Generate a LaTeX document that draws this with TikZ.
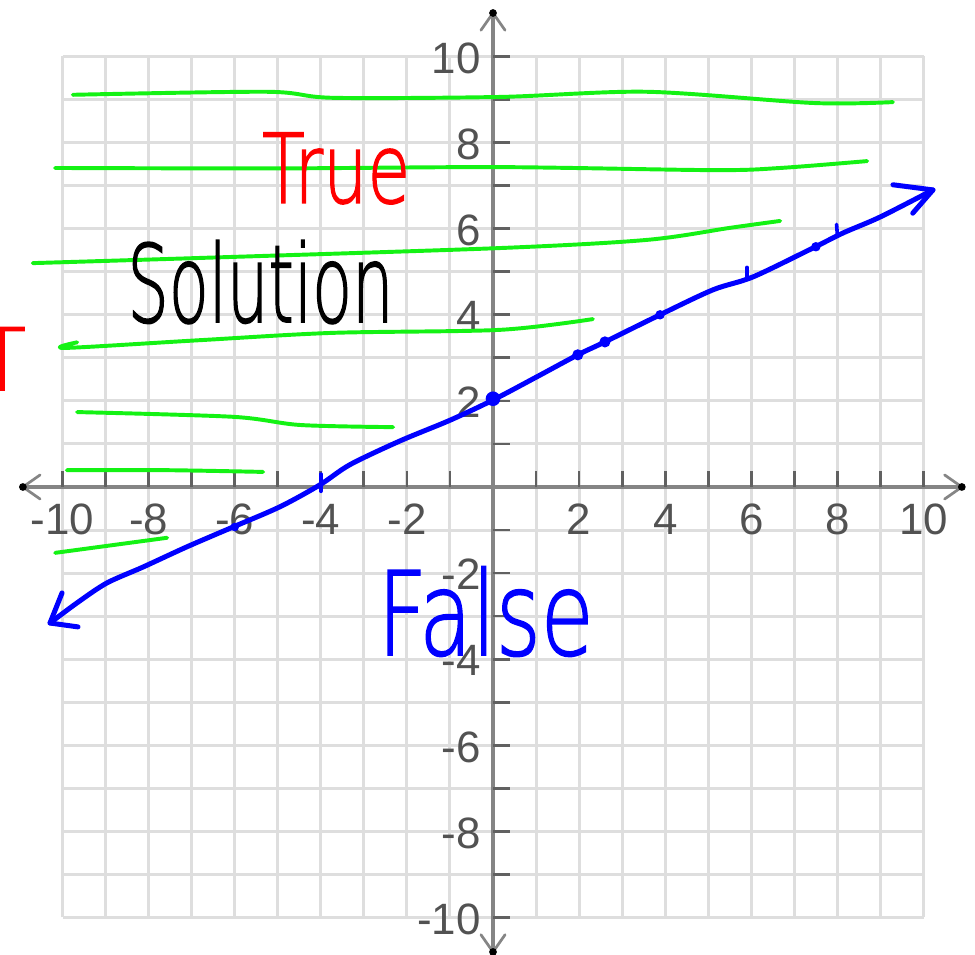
\documentclass[tikz,border=0pt]{standalone}
\usepackage{fontspec}
\setmainfont{Liberation Sans}
\newfontfamily\handfont[FakeBold=1.6]{DejaVu Sans ExtraLight}
\definecolor{hgreen}{RGB}{20,242,20}
\definecolor{hblue}{RGB}{0,0,255}
\definecolor{hred}{RGB}{255,0,0}
\begin{document}
\begin{tikzpicture}[x=1cm,y=1cm,
  gridline/.style={draw=black!13, line width=2pt},
  axisline/.style={draw=black!48, line width=2.6pt},
  axishead/.style={draw=black!48, line width=1.8pt, line cap=round, line join=round},
  tickmark/.style={draw=black!62, line width=1.8pt},
  numlbl/.style={text=black!68, font=\fontsize{29}{29}\selectfont, inner sep=0pt},
  shadeline/.style={draw=hgreen, line width=2.6pt, line cap=round, line join=round},
  solline/.style={draw=hblue, line width=3.3pt, line cap=round, line join=round},
  handtext/.style={inner sep=0pt}]
\clip (-11.452,-10.871) rectangle (11.196,11.312);
\fill[white] (-11.452,-10.871) rectangle (11.196,11.312);
% grid
\foreach \i in {-10,...,10} {
  \draw[gridline] (\i,-10) -- (\i,10);
  \draw[gridline] (-10,\i) -- (10,\i);
}
% axes
\coordinate (xl) at (-10.92,0);
\coordinate (xr) at (10.89,0);
\coordinate (yb) at (0,-10.80);
\coordinate (yt) at (0,11.01);
\draw[axisline] (xl) -- (xr);
\draw[axisline] (yb) -- (yt);
\draw[axishead] (-10.52,0.28) -- (xl) -- (-10.52,-0.28);
\draw[axishead] (10.49,0.28) -- (xr) -- (10.49,-0.28);
\draw[axishead] (-0.28,10.61) -- (yt) -- (0.28,10.61);
\draw[axishead] (-0.28,-10.40) -- (yb) -- (0.28,-10.40);
\foreach \c in {xl,xr,yb,yt} \fill[black] (\c) circle (0.09);
% ticks
\foreach \i in {-10,...,-1,1,2,...,10} {
  \draw[tickmark] (\i,0) -- (\i,0.38);
  \draw[tickmark] (0,\i) -- (0.4,\i);
}
% labels
\foreach \i in {-10,-8,-6,-4,-2,2,4,6,8,10} {
  \node[numlbl, anchor=base] (xlab\i) at (\i,-1.10) {\i};
  \node[numlbl, anchor=base east] (ylab\i) at (-0.28,\i-0.39) {\i};
}
% green shading strokes
\draw[shadeline] plot[smooth] coordinates {(-9.76,9.11) (-5.25,9.18) (-3.72,9.04) (0.16,9.06) (3.58,9.18) (7.43,8.92) (9.29,8.94)};
\draw[shadeline] plot[smooth] coordinates {(-10.17,7.41) (-5,7.40) (0.16,7.43) (5.11,7.36) (6.67,7.41) (8.69,7.57)};
\draw[shadeline] plot[smooth] coordinates {(-10.69,5.20) (-6.81,5.32) (0.16,5.55) (3.58,5.74) (5.51,6.02) (6.67,6.18)};
\draw[shadeline] plot[smooth] coordinates {(-9.66,3.36) (-9.94,3.23) (-6.81,3.41) (-3.72,3.58) (0.16,3.65) (2.32,3.90)};
\draw[shadeline] plot[smooth] coordinates {(-9.66,1.74) (-6.04,1.63) (-4.48,1.44) (-2.32,1.39)};
\draw[shadeline] plot[smooth] coordinates {(-9.90,0.39) (-7.57,0.39) (-5.34,0.35)};
\draw[shadeline] plot[smooth] coordinates {(-10.17,-1.53) (-7.57,-1.18)};
% blue boundary line
\draw[solline] plot[smooth, tension=0.5] coordinates {(-10.29,-3.16) (-9.66,-2.69) (-8.97,-2.23) (-8.13,-1.86) (-7.11,-1.39) (-6.04,-0.93) (-4.95,-0.46) (-4.02,0.05) (-3.32,0.52) (-2.16,1.07) (-1.00,1.55) (0,2.02) (1.02,2.56) (1.97,3.07) (2.60,3.37) (3.88,4.0) (5.11,4.58) (6.04,4.88) (7.43,5.55) (8.13,5.90) (8.99,6.27) (10.22,6.90)};
\draw[solline] (-10.01,-2.46) -- (-10.29,-3.16) -- (-9.64,-3.25);
\draw[solline] (9.29,7.02) -- (10.22,6.90) -- (9.75,6.36);
\fill[hblue] (0,2.05) circle (0.17);
\fill[hblue] (1.97,3.07) circle (0.13);
\fill[hblue] (2.60,3.37) circle (0.13);
\fill[hblue] (3.88,4.0) circle (0.11);
\fill[hblue] (7.50,5.58) circle (0.11);
\fill[hblue] (-6.0,-0.93) circle (0.10);
\draw[solline, line width=2.4pt] (5.9,4.85) -- (5.9,5.1);
\draw[solline, line width=2.4pt] (8.0,5.85) -- (7.98,6.1);
\draw[solline, line width=2.4pt] (-4.0,-0.1) -- (-4.0,0.3);
% handwritten labels
\node[handtext, anchor=base west, text=hred] (true) at (-5.37,6.60) {\resizebox{3.44cm}{1.63cm}{\handfont True}};
\node[handtext, anchor=base west, text=black] (solution) at (-8.50,3.83) {\resizebox{6.18cm}{1.9cm}{\handfont Solution}};
\node[handtext, anchor=base west, text=hblue] (false) at (-2.69,-3.90) {\resizebox{5.02cm}{2.05cm}{\handfont False}};
\node[handtext, anchor=base, text=hred] (tleft) at (-11.40,2.25) {\resizebox{1.1cm}{1.46cm}{\handfont T}};
\end{tikzpicture}
\end{document}
